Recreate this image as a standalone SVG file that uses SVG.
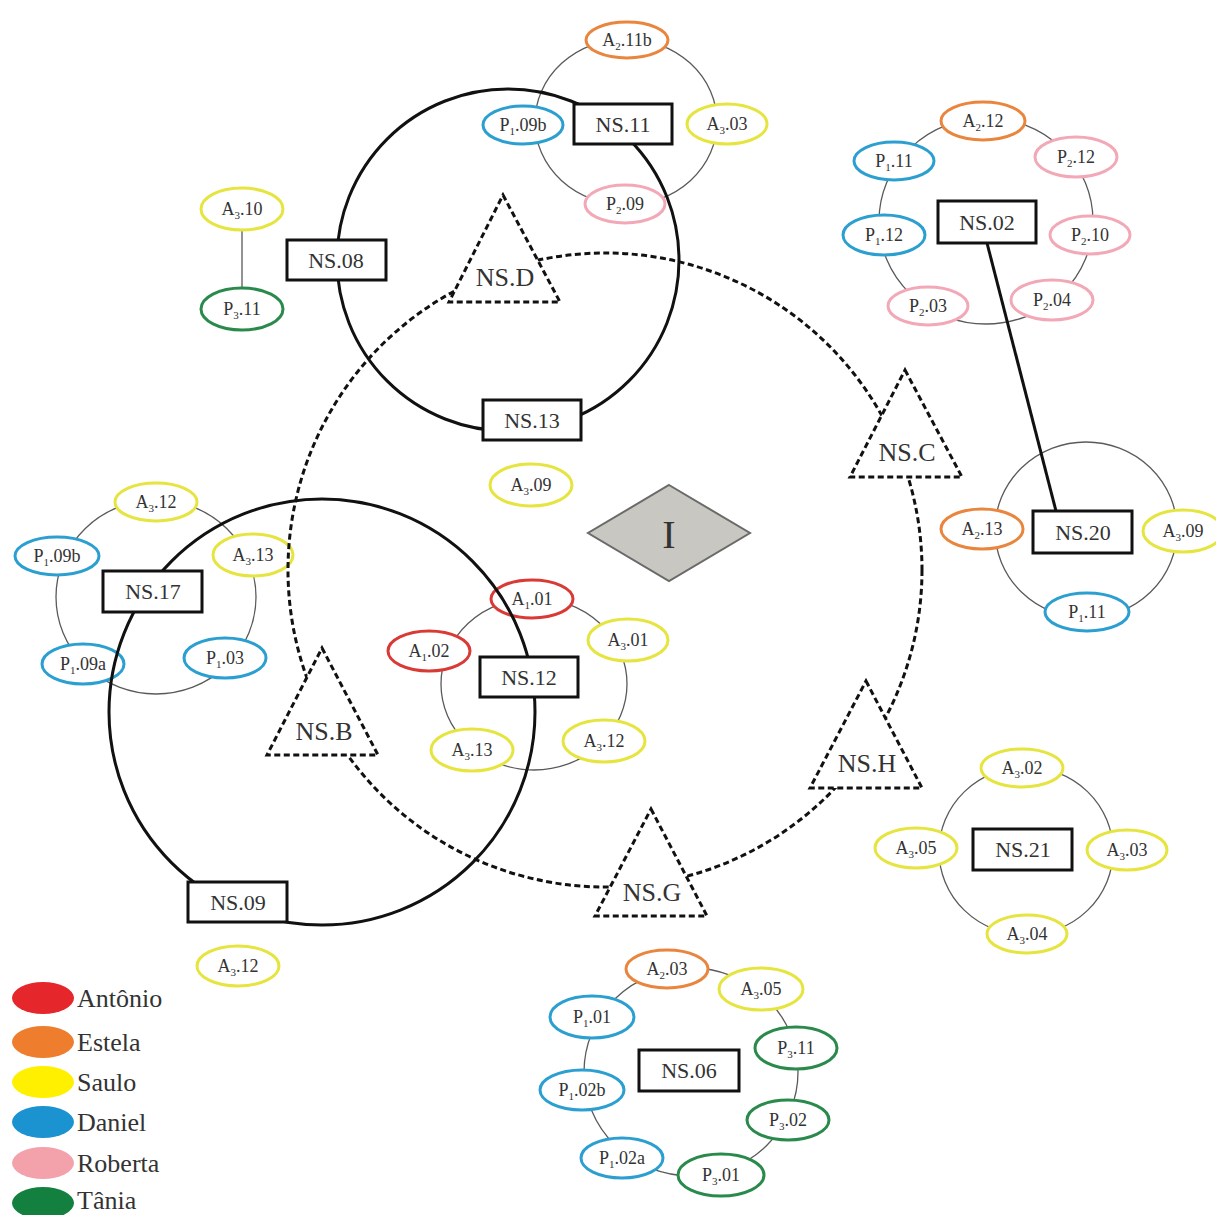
<svg xmlns="http://www.w3.org/2000/svg" width="1216" height="1215" viewBox="0 0 1216 1215" font-family="'Liberation Serif', 'DejaVu Serif', serif">
<style>
.ring{fill:none;stroke:#5a5a5a;stroke-width:1.3}
.big{fill:none;stroke:#111;stroke-width:3}
.dash{fill:none;stroke:#111;stroke-width:3;stroke-dasharray:6 3.5}
.tri{fill:#fff;stroke:#111;stroke-width:3;stroke-dasharray:6 3.5;stroke-linejoin:miter}
.box{fill:#fff;stroke:#111;stroke-width:3}
.n{fill:#fff;stroke-width:3}
.r{stroke:#d93a36}.o{stroke:#e9853d}.y{stroke:#e6e43e}.b{stroke:#2c9fd1}.p{stroke:#f2a8b6}.g{stroke:#2a8a4c}
text{font-family:'Liberation Serif','Times New Roman','DejaVu Serif',serif;fill:#333;text-anchor:middle}
.t{font-size:18px}
.s{font-size:11px}
.bt{font-size:22px}
.tt{font-size:26px}
.lg{font-size:26px;text-anchor:start}
</style>

<g id="connectors-rings">
<ellipse class="ring" cx="626" cy="122" rx="91" ry="83"/>
<ellipse class="ring" cx="986" cy="221" rx="107" ry="103"/>
<ellipse class="ring" cx="1086" cy="530" rx="91" ry="88"/>
<ellipse class="ring" cx="156" cy="597" rx="100" ry="97"/>
<ellipse class="ring" cx="534" cy="684" rx="93" ry="86"/>
<ellipse class="ring" cx="1026" cy="851" rx="87" ry="84"/>
<ellipse class="ring" cx="691" cy="1072" rx="107" ry="104"/>
<line class="ring" x1="242" y1="229" x2="242" y2="290"/>
</g>

<g id="n-a2-11b"><ellipse class="n o" cx="627" cy="40" rx="41" ry="18"/><text class="t" x="627" y="46">A<tspan class="s" dy="4">2</tspan><tspan dy="-4">.11b</tspan></text></g>
<g id="n-p1-09b-top"><ellipse class="n b" cx="523" cy="125" rx="40" ry="19"/><text class="t" x="523" y="131">P<tspan class="s" dy="4">1</tspan><tspan dy="-4">.09b</tspan></text></g>
<g id="n-a3-03-top"><ellipse class="n y" cx="727" cy="124" rx="40" ry="20"/><text class="t" x="727" y="130">A<tspan class="s" dy="4">3</tspan><tspan dy="-4">.03</tspan></text></g>
<g id="n-p2-09"><ellipse class="n p" cx="625" cy="204" rx="40" ry="19"/><text class="t" x="625" y="210">P<tspan class="s" dy="4">2</tspan><tspan dy="-4">.09</tspan></text></g>

<g id="n-a3-10"><ellipse class="n y" cx="242" cy="209" rx="41" ry="21"/><text class="t" x="242" y="215">A<tspan class="s" dy="4">3</tspan><tspan dy="-4">.10</tspan></text></g>
<g id="n-p3-11-left"><ellipse class="n g" cx="242" cy="309" rx="41" ry="21"/><text class="t" x="242" y="315">P<tspan class="s" dy="4">3</tspan><tspan dy="-4">.11</tspan></text></g>

<g id="n-a2-12"><ellipse class="n o" cx="983" cy="121" rx="42" ry="19"/><text class="t" x="983" y="127">A<tspan class="s" dy="4">2</tspan><tspan dy="-4">.12</tspan></text></g>
<g id="n-p1-11-ns02"><ellipse class="n b" cx="894" cy="161" rx="40" ry="19"/><text class="t" x="894" y="167">P<tspan class="s" dy="4">1</tspan><tspan dy="-4">.11</tspan></text></g>
<g id="n-p2-12"><ellipse class="n p" cx="1076" cy="157" rx="41" ry="20"/><text class="t" x="1076" y="163">P<tspan class="s" dy="4">2</tspan><tspan dy="-4">.12</tspan></text></g>
<g id="n-p1-12"><ellipse class="n b" cx="884" cy="235" rx="41" ry="20"/><text class="t" x="884" y="241">P<tspan class="s" dy="4">1</tspan><tspan dy="-4">.12</tspan></text></g>
<g id="n-p2-10"><ellipse class="n p" cx="1090" cy="235" rx="40" ry="19"/><text class="t" x="1090" y="241">P<tspan class="s" dy="4">2</tspan><tspan dy="-4">.10</tspan></text></g>
<g id="n-p2-03"><ellipse class="n p" cx="928" cy="306" rx="40" ry="19"/><text class="t" x="928" y="312">P<tspan class="s" dy="4">2</tspan><tspan dy="-4">.03</tspan></text></g>
<g id="n-p2-04"><ellipse class="n p" cx="1052" cy="300" rx="41" ry="20"/><text class="t" x="1052" y="306">P<tspan class="s" dy="4">2</tspan><tspan dy="-4">.04</tspan></text></g>

<g id="n-a2-13"><ellipse class="n o" cx="982" cy="529" rx="41" ry="20"/><text class="t" x="982" y="535">A<tspan class="s" dy="4">2</tspan><tspan dy="-4">.13</tspan></text></g>
<g id="n-a3-09-right"><ellipse class="n y" cx="1183" cy="531" rx="40" ry="21"/><text class="t" x="1183" y="537">A<tspan class="s" dy="4">3</tspan><tspan dy="-4">.09</tspan></text></g>
<g id="n-p1-11-ns20"><ellipse class="n b" cx="1087" cy="612" rx="42" ry="19"/><text class="t" x="1087" y="618">P<tspan class="s" dy="4">1</tspan><tspan dy="-4">.11</tspan></text></g>

<g id="n-a3-09-center"><ellipse class="n y" cx="531" cy="485" rx="41" ry="21"/><text class="t" x="531" y="491">A<tspan class="s" dy="4">3</tspan><tspan dy="-4">.09</tspan></text></g>

<g id="n-a3-12-ns17"><ellipse class="n y" cx="156" cy="502" rx="41" ry="19"/><text class="t" x="156" y="508">A<tspan class="s" dy="4">3</tspan><tspan dy="-4">.12</tspan></text></g>
<g id="n-p1-09b-ns17"><ellipse class="n b" cx="57" cy="556" rx="42" ry="19"/><text class="t" x="57" y="562">P<tspan class="s" dy="4">1</tspan><tspan dy="-4">.09b</tspan></text></g>
<g id="n-a3-13-ns17"><ellipse class="n y" cx="253" cy="555" rx="40" ry="21"/><text class="t" x="253" y="561">A<tspan class="s" dy="4">3</tspan><tspan dy="-4">.13</tspan></text></g>
<g id="n-p1-09a"><ellipse class="n b" cx="83" cy="664" rx="41" ry="20"/><text class="t" x="83" y="670">P<tspan class="s" dy="4">1</tspan><tspan dy="-4">.09a</tspan></text></g>
<g id="n-p1-03"><ellipse class="n b" cx="225" cy="658" rx="41" ry="20"/><text class="t" x="225" y="664">P<tspan class="s" dy="4">1</tspan><tspan dy="-4">.03</tspan></text></g>

<g id="n-a1-01"><ellipse class="n r" cx="532" cy="599" rx="41" ry="19"/><text class="t" x="532" y="605">A<tspan class="s" dy="4">1</tspan><tspan dy="-4">.01</tspan></text></g>
<g id="n-a1-02"><ellipse class="n r" cx="429" cy="651" rx="41" ry="20"/><text class="t" x="429" y="657">A<tspan class="s" dy="4">1</tspan><tspan dy="-4">.02</tspan></text></g>
<g id="n-a3-01"><ellipse class="n y" cx="628" cy="640" rx="40" ry="21"/><text class="t" x="628" y="646">A<tspan class="s" dy="4">3</tspan><tspan dy="-4">.01</tspan></text></g>
<g id="n-a3-13-ns12"><ellipse class="n y" cx="472" cy="750" rx="41" ry="21"/><text class="t" x="472" y="756">A<tspan class="s" dy="4">3</tspan><tspan dy="-4">.13</tspan></text></g>
<g id="n-a3-12-ns12"><ellipse class="n y" cx="604" cy="741" rx="41" ry="21"/><text class="t" x="604" y="747">A<tspan class="s" dy="4">3</tspan><tspan dy="-4">.12</tspan></text></g>

<g id="n-a3-02"><ellipse class="n y" cx="1022" cy="768" rx="41" ry="19"/><text class="t" x="1022" y="774">A<tspan class="s" dy="4">3</tspan><tspan dy="-4">.02</tspan></text></g>
<g id="n-a3-05-ns21"><ellipse class="n y" cx="916" cy="848" rx="41" ry="20"/><text class="t" x="916" y="854">A<tspan class="s" dy="4">3</tspan><tspan dy="-4">.05</tspan></text></g>
<g id="n-a3-03-ns21"><ellipse class="n y" cx="1127" cy="850" rx="40" ry="20"/><text class="t" x="1127" y="856">A<tspan class="s" dy="4">3</tspan><tspan dy="-4">.03</tspan></text></g>
<g id="n-a3-04"><ellipse class="n y" cx="1027" cy="934" rx="40" ry="19"/><text class="t" x="1027" y="940">A<tspan class="s" dy="4">3</tspan><tspan dy="-4">.04</tspan></text></g>

<g id="n-a3-12-bottom"><ellipse class="n y" cx="238" cy="966" rx="41" ry="20"/><text class="t" x="238" y="972">A<tspan class="s" dy="4">3</tspan><tspan dy="-4">.12</tspan></text></g>

<g id="n-a2-03"><ellipse class="n o" cx="667" cy="969" rx="41" ry="19"/><text class="t" x="667" y="975">A<tspan class="s" dy="4">2</tspan><tspan dy="-4">.03</tspan></text></g>
<g id="n-a3-05-ns06"><ellipse class="n y" cx="761" cy="989" rx="42" ry="21"/><text class="t" x="761" y="995">A<tspan class="s" dy="4">3</tspan><tspan dy="-4">.05</tspan></text></g>
<g id="n-p1-01"><ellipse class="n b" cx="592" cy="1017" rx="42" ry="21"/><text class="t" x="592" y="1023">P<tspan class="s" dy="4">1</tspan><tspan dy="-4">.01</tspan></text></g>
<g id="n-p3-11-ns06"><ellipse class="n g" cx="796" cy="1048" rx="41" ry="21"/><text class="t" x="796" y="1054">P<tspan class="s" dy="4">3</tspan><tspan dy="-4">.11</tspan></text></g>
<g id="n-p1-02b"><ellipse class="n b" cx="582" cy="1090" rx="42" ry="20"/><text class="t" x="582" y="1096">P<tspan class="s" dy="4">1</tspan><tspan dy="-4">.02b</tspan></text></g>
<g id="n-p3-02"><ellipse class="n g" cx="788" cy="1120" rx="41" ry="20"/><text class="t" x="788" y="1126">P<tspan class="s" dy="4">3</tspan><tspan dy="-4">.02</tspan></text></g>
<g id="n-p1-02a"><ellipse class="n b" cx="622" cy="1158" rx="41" ry="20"/><text class="t" x="622" y="1164">P<tspan class="s" dy="4">1</tspan><tspan dy="-4">.02a</tspan></text></g>
<g id="n-p3-01"><ellipse class="n g" cx="721" cy="1175" rx="43" ry="21"/><text class="t" x="721" y="1181">P<tspan class="s" dy="4">3</tspan><tspan dy="-4">.01</tspan></text></g>

<g id="connectors">
<circle class="big" cx="508" cy="260" r="171"/>
<circle class="big" cx="322" cy="712" r="213"/>
<circle class="dash" cx="605" cy="570" r="317"/>
<line x1="987" y1="243" x2="1056" y2="511" stroke="#111" stroke-width="3"/>
</g>

<g id="ns-d"><polygon class="tri" points="503,195 560,302 449,302"/><text class="tt" x="505" y="286">NS.D</text></g>
<g id="ns-c"><polygon class="tri" points="905,370 962,477 850,477"/><text class="tt" x="907" y="461">NS.C</text></g>
<g id="ns-h"><polygon class="tri" points="866,681 922,788 810,788"/><text class="tt" x="867" y="772">NS.H</text></g>
<g id="ns-g"><polygon class="tri" points="651,809 707,916 595,916"/><text class="tt" x="652" y="901">NS.G</text></g>
<g id="ns-b"><polygon class="tri" points="322,648 378,755 267,755"/><text class="tt" x="324" y="740">NS.B</text></g>

<g id="i"><polygon points="669,485 750,533 669,581 588,533" fill="#c9c7c1" stroke="#6a6a6a" stroke-width="2"/><text x="669" y="548" style="font-size:40px">I</text></g>

<g id="ns-11"><rect class="box" x="574" y="104" width="98" height="40"/><text class="bt" x="623" y="132">NS.11</text></g>
<g id="ns-08"><rect class="box" x="287" y="240" width="99" height="40"/><text class="bt" x="336" y="268">NS.08</text></g>
<g id="ns-13"><rect class="box" x="483" y="400" width="98" height="40"/><text class="bt" x="532" y="428">NS.13</text></g>
<g id="ns-02"><rect class="box" x="938" y="201" width="98" height="42"/><text class="bt" x="987" y="230">NS.02</text></g>
<g id="ns-20"><rect class="box" x="1033" y="511" width="99" height="42"/><text class="bt" x="1083" y="540">NS.20</text></g>
<g id="ns-17"><rect class="box" x="103" y="571" width="99" height="41"/><text class="bt" x="153" y="599">NS.17</text></g>
<g id="ns-12"><rect class="box" x="480" y="657" width="98" height="40"/><text class="bt" x="529" y="685">NS.12</text></g>
<g id="ns-09"><rect class="box" x="188" y="882" width="99" height="40"/><text class="bt" x="238" y="910">NS.09</text></g>
<g id="ns-21"><rect class="box" x="973" y="829" width="99" height="41"/><text class="bt" x="1023" y="857">NS.21</text></g>
<g id="ns-06"><rect class="box" x="639" y="1050" width="100" height="41"/><text class="bt" x="689" y="1078">NS.06</text></g>

<g id="legend">
<ellipse cx="43" cy="998" rx="31" ry="16" fill="#e5262a"/><text class="lg" x="77" y="1007">Antônio</text>
<ellipse cx="43" cy="1042" rx="31" ry="16" fill="#ee7d2e"/><text class="lg" x="77" y="1051">Estela</text>
<ellipse cx="43" cy="1082" rx="31" ry="16" fill="#fff000"/><text class="lg" x="77" y="1091">Saulo</text>
<ellipse cx="43" cy="1122" rx="31" ry="16" fill="#1b93d1"/><text class="lg" x="77" y="1131">Daniel</text>
<ellipse cx="43" cy="1163" rx="31" ry="16" fill="#f3a2ab"/><text class="lg" x="77" y="1172">Roberta</text>
<ellipse cx="43" cy="1203" rx="31" ry="16" fill="#13803f"/><text class="lg" x="77" y="1209">Tânia</text>
</g>
</svg>
